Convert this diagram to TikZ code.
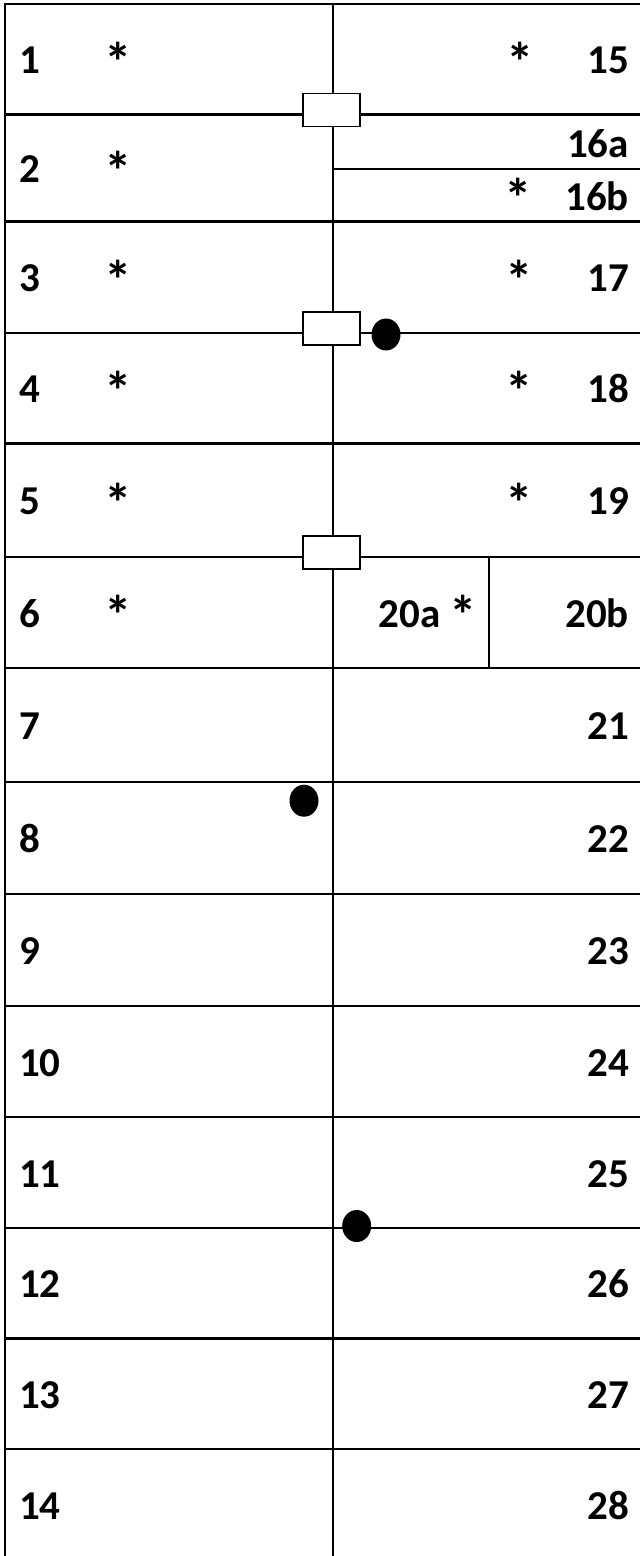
\documentclass[tikz,border=0pt]{standalone}
\usepackage{fontspec}
\setmainfont{Carlito}
\usetikzlibrary{shapes.geometric}
\newcommand{\bigstar}{{\fontsize{55}{55}\selectfont\raisebox{-7.5pt}{*}}}
\begin{document}
\begin{tikzpicture}[x=1pt,y=-1pt,line width=2.2pt,
  lab/.style={font=\fontsize{41}{41}\selectfont\bfseries,inner sep=0pt},
  lft/.style={lab,anchor=base west},
  rgt/.style={lab,anchor=base east},
  star/.style={lab,anchor=base},
  plug/.style={draw,fill=white,line width=1.8pt,minimum width=57pt,minimum height=33pt,inner sep=0pt},
  blob/.style={fill=black,ellipse,minimum width=29pt,minimum height=32pt,inner sep=0pt}]
\useasboundingbox (0,0) rectangle (640,1556);
% grid
\draw (640,4) -- (5,4) -- (5,1556);
\draw (332.7,4) -- (332.7,1556);
\foreach \yy in {114.5,221.5,332.7,443.5,557,668,782,894,1006,1117,1228,1338.5,1449}
  \draw (5,\yy) -- (640,\yy);
\draw (332.7,169) -- (640,169);
\draw (488.6,557) -- (488.6,668);
% plugs and dots
\node[plug] (p1) at (331.5,110) {};
\node[plug] (p2) at (331.5,328.2) {};
\node[plug] (p3) at (331.5,552.5) {};
\node[blob] (d1) at (386,334.5) {};
\node[blob] (d2) at (304,800.7) {};
\node[blob] (d3) at (356.7,1226) {};
% left labels
\node[lft] (l1) at (18,73.75) {1};
\node[lft] (l2) at (18,182.5) {2};
\node[lft] (l3) at (18,291.6) {3};
\node[lft] (l4) at (18,402.6) {4};
\node[lft] (l5) at (18,514.75) {5};
\node[lft] (l6) at (18,627) {6};
\node[lft] (l7) at (18,739.5) {7};
\node[lft] (l8) at (18,852.5) {8};
\node[lft] (l9) at (18,964.5) {9};
\node[lft] (l10) at (18,1076) {10};
\node[lft] (l11) at (18,1187) {11};
\node[lft] (l12) at (18,1297.75) {12};
\node[lft] (l13) at (18,1408.25) {13};
\node[lft] (l14) at (18,1519) {14};
% left stars
\node[star] (s1) at (118,73.75) {\bigstar};
\node[star] (s2) at (118,182.5) {\bigstar};
\node[star] (s3) at (118,291.6) {\bigstar};
\node[star] (s4) at (118,402.6) {\bigstar};
\node[star] (s5) at (118,514.75) {\bigstar};
\node[star] (s6) at (118,627) {\bigstar};
% right labels
\node[rgt] (r15) at (630,73.75) {15};
\node[rgt] (r16a) at (630,157) {16a};
\node[rgt] (r16b) at (630,210) {16b};
\node[rgt] (r17) at (630,291.6) {17};
\node[rgt] (r18) at (630,402.6) {18};
\node[rgt] (r19) at (630,514.75) {19};
\node[rgt] (r20a) at (478,627) {20a \bigstar};
\node[rgt] (r20b) at (630,627) {20b};
\node[rgt] (r21) at (630,739.5) {21};
\node[rgt] (r22) at (630,852.5) {22};
\node[rgt] (r23) at (630,964.5) {23};
\node[rgt] (r24) at (630,1076) {24};
\node[rgt] (r25) at (630,1187) {25};
\node[rgt] (r26) at (630,1297.75) {26};
\node[rgt] (r27) at (630,1408.25) {27};
\node[rgt] (r28) at (630,1519) {28};
% right stars
\node[star] (t15) at (520,73.75) {\bigstar};
\node[star] (t16) at (518.5,210) {\bigstar};
\node[star] (t17) at (519.5,291.6) {\bigstar};
\node[star] (t18) at (519.5,402.6) {\bigstar};
\node[star] (t19) at (519.5,514.75) {\bigstar};
\end{tikzpicture}
\end{document}
